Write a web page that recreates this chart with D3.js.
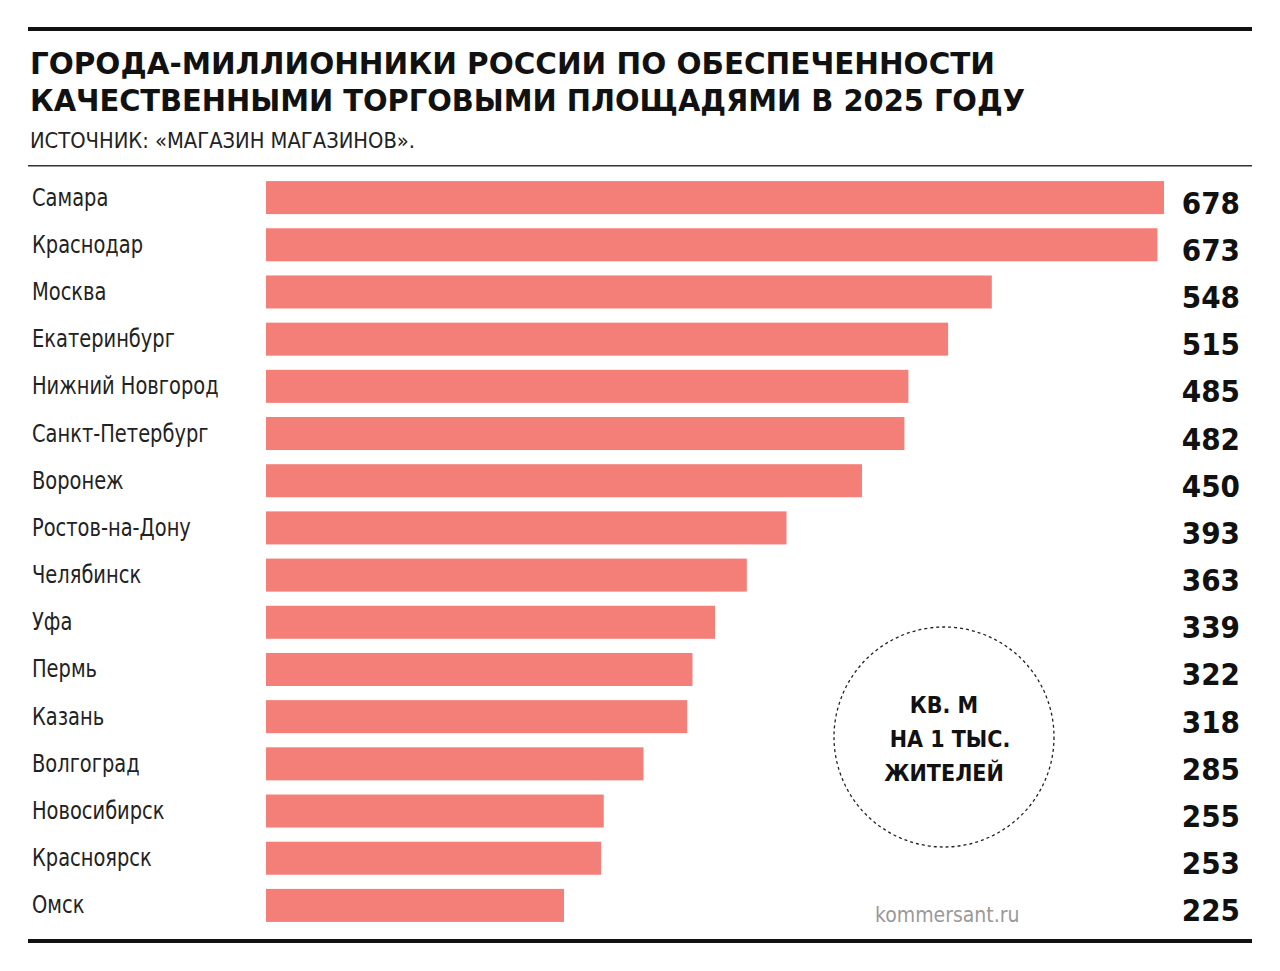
<!DOCTYPE html>
<head>
  <style>
    body { margin: 0; background: #fff; }
    text { font-family: "DejaVu Sans Condensed", "Liberation Sans", sans-serif; }
  </style>
</head>
<body>
  <script src="https://cdn.jsdelivr.net/npm/d3@7"></script>
  <script>
    // data
    var cities = ["Самара", "Краснодар", "Москва", "Екатеринбург", "Нижний Новгород",
      "Санкт-Петербург", "Воронеж", "Ростов-на-Дону", "Челябинск", "Уфа", "Пермь",
      "Казань", "Волгоград", "Новосибирск", "Красноярск", "Омск"];
    var values = [678, 673, 548, 515, 485, 482, 450, 393, 363, 339, 322, 318, 285, 255, 253, 225];
    var titleLines = ["ГОРОДА-МИЛЛИОННИКИ РОССИИ ПО ОБЕСПЕЧЕННОСТИ",
      "КАЧЕСТВЕННЫМИ ТОРГОВЫМИ ПЛОЩАДЯМИ В 2025 ГОДУ"];
    var unitLines = ["КВ. М", "НА 1 ТЫС.", "ЖИТЕЛЕЙ"];

    var width = 1280, height = 971;
    var svg = d3.select("body").append("svg")
      .attr("width", width).attr("height", height);

    var x = d3.scaleLinear().domain([0, 678]).range([266, 1164]);
    var y = d3.scaleBand().domain(cities).range([174, 929]).paddingInner(0.3).paddingOuter(0.15);

    // rules
    svg.append("rect").attr("x", 28).attr("y", 27).attr("width", 1224).attr("height", 4).attr("fill", "#111");
    svg.append("rect").attr("x", 28).attr("y", 165).attr("width", 1224).attr("height", 1.5).attr("fill", "#333");
    svg.append("rect").attr("x", 28).attr("y", 939).attr("width", 1224).attr("height", 4).attr("fill", "#111");

    // title
    svg.selectAll(".title").data(titleLines).enter().append("text")
      .attr("x", 30).attr("y", function(d, i) { return 74 + i * 37; })
      .attr("font-size", 31).attr("font-weight", "bold").attr("fill", "#111")
      .attr("textLength", function(d, i) { return i == 0 ? 965 : 995; })
      .attr("lengthAdjust", "spacingAndGlyphs")
      .text(function(d) { return d; });

    svg.append("text").attr("x", 30).attr("y", 148)
      .attr("font-size", 22).attr("fill", "#222")
      .attr("textLength", 385).attr("lengthAdjust", "spacingAndGlyphs")
      .text("ИСТОЧНИК: «МАГАЗИН МАГАЗИНОВ».");

    // bars
    svg.selectAll(".bar").data(cities).enter().append("rect")
      .attr("x", x(0))
      .attr("y", function(d) { return y(d); })
      .attr("width", function(d, i) { return x(values[i]) - x(0); })
      .attr("height", y.bandwidth())
      .attr("fill", "#f47f78");

    var labs = svg.append("g").attr("transform", "translate(32,0) scale(0.9,1)");
    labs.selectAll(".lab").data(cities).enter().append("text")
      .attr("x", 0).attr("y", function(d) { return y(d) + y.bandwidth() / 2 + 8; })
      .attr("font-size", 24).attr("fill", "#222")
      .text(function(d) { return d; });

    svg.selectAll(".val").data(values).enter().append("text")
      .attr("x", 1240).attr("text-anchor", "end")
      .attr("y", function(d, i) { return y(cities[i]) + y.bandwidth() / 2 + 16; })
      .attr("font-size", 31).attr("font-weight", "bold").attr("fill", "#111")
      .text(function(d) { return d; });

    // unit circle
    svg.append("circle").attr("cx", 944).attr("cy", 737).attr("r", 110)
      .attr("fill", "none").attr("stroke", "#222").attr("stroke-width", 1.3)
      .attr("stroke-dasharray", "3,3");
    svg.selectAll(".unit").data(unitLines).enter().append("text")
      .attr("x", function(d, i) { return i == 1 ? 950 : 944; }).attr("text-anchor", "middle")
      .attr("y", function(d, i) { return 713 + i * 34; })
      .attr("font-size", 23).attr("font-weight", "bold").attr("fill", "#111")
      .text(function(d) { return d; });

    svg.append("text").attr("x", 875).attr("y", 922)
      .attr("font-size", 21).attr("fill", "#999")
      .text("kommersant.ru");
  </script>
</body>
